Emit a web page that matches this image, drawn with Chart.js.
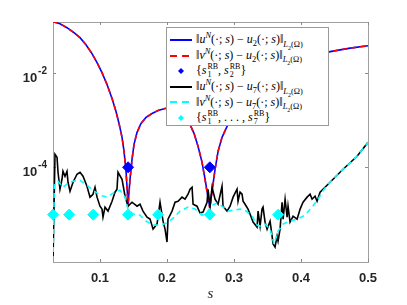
<!DOCTYPE html>
<html>
<head>
<meta charset="utf-8">
<script src="https://cdn.jsdelivr.net/npm/chart.js@4.4.1/dist/chart.umd.min.js"></script>
<style>
    html, body { margin: 0; padding: 0; background: #fff; }
    #wrap { position: relative; width: 407px; height: 305px; }
    #legend {
        position: absolute; left: 166px; top: 27px; width: 161px; height: 97px;
        border: 1px solid #9a9a9a; background: #fff;
        font-family: "Liberation Serif", "DejaVu Serif", serif; font-size: 12px; color: #000;
    }
    #legend .row { position: absolute; left: 0; height: 16px; display: flex; align-items: center; white-space: nowrap; }
    #legend .row svg { margin-left: 2px; margin-right: 3px; }
    #legend sup, #legend sub { font-size: 70%; line-height: 0; }
    #legend .ss { display: inline-block; vertical-align: middle; font-size: 8px; line-height: 8px; margin-left: 1px; }
    #legend .ss span { display: block; }
</style>
</head>
<body>
<div id="wrap">
    <canvas id="chart" width="407" height="305"></canvas>
    <div id="legend"></div>
</div>
<script>
// s grid and errors for N = 2
const sU2 = [0.030, 0.0404, 0.0509, 0.0613, 0.0703, 0.0792, 0.0882, 0.0957, 0.1031, 0.1106,
    0.1181, 0.1240, 0.1285, 0.1330, 0.1360, 0.1390, 0.1420, 0.1449, 0.1479, 0.1509,
    0.1554, 0.1613, 0.1688, 0.1778, 0.1867, 0.1972, 0.2076, 0.2166, 0.2255, 0.2330,
    0.2404, 0.2464, 0.2524, 0.2569, 0.2613, 0.2640, 0.2673, 0.2718, 0.2763, 0.2822,
    0.2897, 0.3001, 0.3136, 0.3315, 0.3539, 0.3793, 0.4061, 0.4434, 0.4733, 0.5000];
const errU2 = [0.1186, 0.1076, 0.0886, 0.0695, 0.0546, 0.0388, 0.0251, 0.0163, 0.0100, 5.59e-3,
    2.84e-3, 1.51e-3, 8.43e-4, 4.28e-4, 2.17e-4, 8.24e-5, 1.66e-5, 5.59e-5, 1.47e-4, 3.05e-4,
    5.46e-4, 8.43e-4, 1.13e-3, 1.37e-3, 1.58e-3, 1.75e-3, 1.83e-3, 1.66e-3, 1.31e-3, 8.86e-4,
    5.20e-4, 2.77e-4, 1.27e-4, 5.59e-5, 2.34e-5, 1.44e-5, 3.13e-5, 9.08e-5, 2.17e-4, 4.28e-4,
    7.29e-4, 1.37e-3, 2.58e-3, 4.83e-3, 8.65e-3, 0.0140, 0.0197, 0.0277, 0.0328, 0.0370];
const errV2 = [0.1186, 0.1076, 0.0886, 0.0695, 0.0546, 0.0388, 0.0251, 0.0163, 0.0100, 5.59e-3,
    2.84e-3, 1.51e-3, 8.43e-4, 4.28e-4, 2.17e-4, 8.00e-5, 1.44e-5, 5.40e-5, 1.47e-4, 3.05e-4,
    5.46e-4, 8.43e-4, 1.13e-3, 1.37e-3, 1.58e-3, 1.75e-3, 1.83e-3, 1.66e-3, 1.31e-3, 8.86e-4,
    5.20e-4, 2.77e-4, 1.27e-4, 5.40e-5, 2.20e-5, 1.31e-5, 3.00e-5, 9.08e-5, 2.17e-4, 4.28e-4,
    7.29e-4, 1.37e-3, 2.58e-3, 4.83e-3, 8.65e-3, 0.0140, 0.0197, 0.0277, 0.0328, 0.0370];

// s grid and errors for N = 7
const sU7 = [0.0300, 0.0330, 0.0360, 0.0375, 0.0404, 0.0434, 0.0449, 0.0479, 0.0509, 0.0524,
    0.0554, 0.0599, 0.0658, 0.0703, 0.0748, 0.0807, 0.0852, 0.0897, 0.0927, 0.0957,
    0.1001, 0.1031, 0.1046, 0.1076, 0.1121, 0.1181, 0.1225, 0.1255, 0.1270, 0.1330,
    0.1375, 0.1419, 0.1479, 0.1554, 0.1598, 0.1643, 0.1703, 0.1748, 0.1793, 0.1852,
    0.1897, 0.1942, 0.1972, 0.2001, 0.2016, 0.2076, 0.2121, 0.2166, 0.2225, 0.2270,
    0.2315, 0.2345, 0.2375, 0.2390, 0.2449, 0.2494, 0.2539, 0.2599, 0.2613, 0.2643,
    0.2673, 0.2718, 0.2763, 0.2822, 0.2837, 0.2897, 0.2942, 0.2987, 0.3046, 0.3061,
    0.3091, 0.3121, 0.3136, 0.3166, 0.3210, 0.3240, 0.3285, 0.3345, 0.3360, 0.3390,
    0.3419, 0.3434, 0.3464, 0.3494, 0.3539, 0.3569, 0.3584, 0.3613, 0.3643, 0.3658,
    0.3688, 0.3718, 0.3733, 0.3763, 0.3793, 0.3807, 0.3837, 0.3882, 0.3942, 0.3987,
    0.4031, 0.4091, 0.4136, 0.4166, 0.4210, 0.4240, 0.4285, 0.4434, 0.4628, 0.4837, 0.5000];
const errU7 = [1.05e-6, 1.88e-4, 1.63e-4, 7.85e-5, 3.44e-5, 5.59e-5, 8.24e-5, 6.47e-5, 8.24e-5, 4.83e-5,
    3.13e-5, 4.83e-5, 7.13e-5, 7.85e-5, 6.47e-5, 3.98e-5, 2.34e-5, 2.70e-5, 3.79e-5, 2.34e-5,
    1.51e-5, 1.31e-5, 8.86e-6, 1.44e-5, 1.19e-5, 1.92e-5, 2.98e-5, 3.44e-5, 7.85e-5, 5.59e-5,
    2.45e-5, 1.51e-5, 1.83e-5, 1.51e-5, 1.66e-5, 1.19e-5, 8.86e-6, 8.04e-6, 4.95e-6, 6.31e-6,
    1.83e-5, 7.29e-6, 4.95e-6, 2.64e-6, 8.04e-6, 1.19e-5, 1.83e-5, 1.92e-5, 2.34e-5, 2.12e-5,
    2.70e-5, 3.44e-5, 3.79e-5, 1.66e-5, 1.51e-5, 1.08e-5, 1.13e-5, 1.83e-5, 3.44e-5, 1.51e-5,
    3.79e-5, 2.12e-5, 1.66e-5, 3.98e-5, 1.51e-5, 1.19e-5, 1.51e-5, 2.34e-5, 3.44e-5, 1.92e-5,
    2.98e-5, 2.70e-5, 1.92e-5, 1.66e-5, 1.31e-5, 1.03e-5, 6.95e-6, 5.46e-6, 1.19e-5, 5.73e-6,
    1.31e-5, 1.44e-5, 6.95e-6, 4.95e-6, 7.29e-6, 3.52e-6, 2.39e-6, 2.07e-6, 3.52e-6, 2.77e-6,
    4.95e-6, 1.83e-5, 8.04e-6, 2.12e-5, 8.86e-6, 1.51e-5, 6.95e-6, 9.29e-6, 8.04e-6, 1.31e-5,
    1.83e-5, 2.34e-5, 2.70e-5, 2.12e-5, 2.45e-5, 1.92e-5, 2.98e-5, 4.83e-5, 9.08e-5, 1.71e-4, 3.36e-4];

const sV7 = [0.0300, 0.0320, 0.0375, 0.0449, 0.0524, 0.0599, 0.0703, 0.0807, 0.0897, 0.1001,
    0.1106, 0.1196, 0.1300, 0.1375, 0.1419, 0.1494, 0.1598, 0.1688, 0.1793, 0.1897,
    0.2001, 0.2091, 0.2196, 0.2315, 0.2419, 0.2524, 0.2599, 0.2673, 0.2748, 0.2822,
    0.2912, 0.3001, 0.3091, 0.3181, 0.3270, 0.3345, 0.3390, 0.3464, 0.3539, 0.3599,
    0.3658, 0.3733, 0.3837, 0.3942, 0.4061, 0.4166, 0.4255, 0.4345, 0.4434, 0.4628,
    0.4837, 0.5000];
const errV7 = [1.05e-6, 4.38e-5, 5.07e-5, 3.79e-5, 4.60e-5, 5.07e-5, 5.32e-5, 4.18e-5, 3.28e-5, 2.58e-5,
    2.34e-5, 2.84e-5, 3.28e-5, 2.34e-5, 1.31e-5, 1.03e-5, 9.76e-6, 7.29e-6, 6.01e-6, 6.01e-6,
    6.62e-6, 8.43e-6, 1.19e-5, 1.44e-5, 1.31e-5, 9.76e-6, 1.13e-5, 1.58e-5, 1.75e-5, 1.51e-5,
    1.19e-5, 1.25e-5, 1.31e-5, 1.19e-5, 9.29e-6, 6.01e-6, 5.73e-6, 6.31e-6, 4.95e-6, 2.39e-6,
    4.50e-6, 6.31e-6, 7.29e-6, 8.04e-6, 9.76e-6, 1.44e-5, 2.12e-5, 3.44e-5, 4.83e-5, 9.08e-5,
    1.71e-4, 3.36e-4];

// reduced basis parameters and the level they are marked at
const rb2 = [0.142, 0.264];
const rb2Level = [1e-4, 1e-4];
const rb7 = [0.03, 0.054, 0.09, 0.142, 0.187, 0.264, 0.366];
const rb7Level = [1e-5, 1e-5, 1e-5, 1e-5, 1e-5, 1e-5, 1e-5];

// axes
const xTickValues = [0.1, 0.2, 0.3, 0.4, 0.5];
const yTickValues = [1e-2, 1e-4];
const yTickExponents = ['-2', '-4'];

const legendLabels = [
    '‖<i>u</i><sup><i>N</i></sup>(·; <i>s</i>) − <i>u</i><sub>2</sub>(·; <i>s</i>)‖<sub><i>L</i><sub>2</sub>(Ω)</sub>',
    '‖<i>v</i><sup><i>N</i></sup>(·; <i>s</i>) − <i>u</i><sub>2</sub>(·; <i>s</i>)‖<sub><i>L</i><sub>2</sub>(Ω)</sub>',
    '{<i>s</i><span class="ss"><span>RB</span><span>1</span></span>, <i>s</i><span class="ss"><span>RB</span><span>2</span></span>}',
    '‖<i>u</i><sup><i>N</i></sup>(·; <i>s</i>) − <i>u</i><sub>7</sub>(·; <i>s</i>)‖<sub><i>L</i><sub>2</sub>(Ω)</sub>',
    '‖<i>v</i><sup><i>N</i></sup>(·; <i>s</i>) − <i>u</i><sub>7</sub>(·; <i>s</i>)‖<sub><i>L</i><sub>2</sub>(Ω)</sub>',
    '{<i>s</i><span class="ss"><span>RB</span><span>1</span></span>, . . . , <i>s</i><span class="ss"><span>RB</span><span>7</span></span>}'
];

function toPoints(xs, ys) {
    return xs.map((x, i) => ({ x: x, y: ys[i] }));
}

function lineSet(label, xs, ys, color, dash, order) {
    return {
        label: label,
        data: toPoints(xs, ys),
        borderColor: color,
        borderWidth: 1.6,
        borderDash: dash,
        pointRadius: 0,
        fill: false,
        tension: 0,
        order: order
    };
}

function markerSet(label, xs, ys, color, order) {
    return {
        label: label,
        data: toPoints(xs, ys),
        showLine: false,
        pointStyle: 'rectRot',
        pointRadius: 5.5,
        pointBackgroundColor: color,
        pointBorderColor: color,
        pointBorderWidth: 1,
        clip: false,
        order: order
    };
}

const legendStyles = [
    { color: '#0000ff', dash: null, marker: false },
    { color: '#ff0000', dash: '7 5', marker: false },
    { color: '#0000ff', dash: null, marker: true },
    { color: '#000000', dash: null, marker: false },
    { color: '#00ffff', dash: '7 5', marker: false },
    { color: '#00ffff', dash: null, marker: true }
];

// draw MATLAB style box with inward ticks
const boxPlugin = {
    id: 'matlabBox',
    beforeDatasetsDraw(chart) {
        const { ctx, chartArea: a, scales } = chart;
        ctx.save();
        ctx.strokeStyle = '#a0a0a0';
        ctx.lineWidth = 1;
        ctx.strokeRect(a.left + 0.5, a.top + 0.5, a.right - a.left, a.bottom - a.top);
        ctx.strokeStyle = '#8a8a8a';
        ctx.beginPath();
        xTickValues.forEach(v => {
            const px = Math.round(scales.x.getPixelForValue(v)) + 0.5;
            ctx.moveTo(px, a.bottom); ctx.lineTo(px, a.bottom - 3);
            ctx.moveTo(px, a.top); ctx.lineTo(px, a.top + 3);
        });
        yTickValues.forEach(v => {
            const py = Math.round(scales.y.getPixelForValue(v)) + 0.5;
            ctx.moveTo(a.left, py); ctx.lineTo(a.left + 3, py);
            ctx.moveTo(a.right, py); ctx.lineTo(a.right - 3, py);
        });
        ctx.stroke();
        ctx.restore();
    },
    afterDraw(chart) {
        const { ctx, chartArea: a, scales } = chart;
        ctx.save();
        ctx.fillStyle = '#262626';
        ctx.textBaseline = 'alphabetic';
        ctx.textAlign = 'left';
        yTickValues.forEach((v, i) => {
            const py = scales.y.getPixelForValue(v);
            ctx.font = 'bold 10px "Liberation Sans", Arial, sans-serif';
            const ew = ctx.measureText(yTickExponents[i]).width;
            ctx.font = 'bold 13px "Liberation Sans", Arial, sans-serif';
            const bw = ctx.measureText('10').width;
            const right = a.left - 6;
            ctx.fillText('10', right - ew - bw - 1, py + 9);
            ctx.font = 'bold 10px "Liberation Sans", Arial, sans-serif';
            ctx.fillText(yTickExponents[i], right - ew, py + 1);
        });
        ctx.restore();
    }
};

function buildLegend(chart) {
    const box = document.getElementById('legend');
    legendLabels.forEach((html, i) => {
        const st = legendStyles[i];
        const row = document.createElement('div');
        row.className = 'row';
        row.style.top = (4 + i * 15.6) + 'px';
        let svg = '<svg width="24" height="10">';
        if (st.marker) {
            svg += '<polygon points="12,2 15,5 12,8 9,5" fill="' + st.color + '"/>';
        } else {
            svg += '<line x1="1" y1="5" x2="23" y2="5" stroke="' + st.color + '" stroke-width="2"' +
                (st.dash ? ' stroke-dasharray="' + st.dash + '"' : '') + '/>';
        }
        svg += '</svg>';
        row.innerHTML = svg + '<span>' + html + '</span>';
        box.appendChild(row);
    });
}

function initChart() {
    const ctx = document.getElementById('chart');
    const chart = new Chart(ctx, {
        type: 'line',
        data: {
            datasets: [
                lineSet('u^N - u_2', sU2, errU2, '#0000ff', [], 6),
                lineSet('v^N - u_2', sU2, errV2, '#ff0000', [5, 4], 5),
                markerSet('{s1, s2}', rb2, rb2Level, '#0000ff', 4),
                lineSet('u^N - u_7', sU7, errU7, '#000000', [], 3),
                lineSet('v^N - u_7', sV7, errV7, '#00ffff', [5, 4], 2),
                markerSet('{s1..s7}', rb7, rb7Level, '#00ffff', 1)
            ]
        },
        options: {
            responsive: false,
            animation: false,
            layout: { padding: { top: 22, right: 39, left: 0, bottom: 0 } },
            plugins: {
                legend: { display: false },
                tooltip: { enabled: false }
            },
            scales: {
                x: {
                    type: 'linear',
                    min: 0.03,
                    max: 0.5,
                    afterBuildTicks: (scale) => { scale.ticks = xTickValues.map(v => ({ value: v })); },
                    afterFit: (scale) => { scale.height = 43; },
                    grid: { display: false, drawTicks: false },
                    border: { display: false },
                    ticks: {
                        color: '#262626',
                        padding: 9,
                        maxRotation: 0,
                        font: { family: '"Liberation Sans", Arial, sans-serif', size: 13, weight: 'bold' },
                        callback: (v) => String(v)
                    },
                    title: {
                        display: true,
                        text: 's',
                        color: '#262626',
                        font: { family: '"Liberation Serif", serif', style: 'italic', size: 15 },
                        padding: { top: 0, bottom: 2 }
                    }
                },
                y: {
                    type: 'logarithmic',
                    min: 1e-6,
                    max: 0.117,
                    afterFit: (scale) => { scale.width = 53; },
                    grid: { display: false, drawTicks: false },
                    border: { display: false },
                    ticks: { display: false }
                }
            }
        },
        plugins: [boxPlugin]
    });
    buildLegend(chart);
    return chart;
}

initChart();
</script>
</body>
</html>
